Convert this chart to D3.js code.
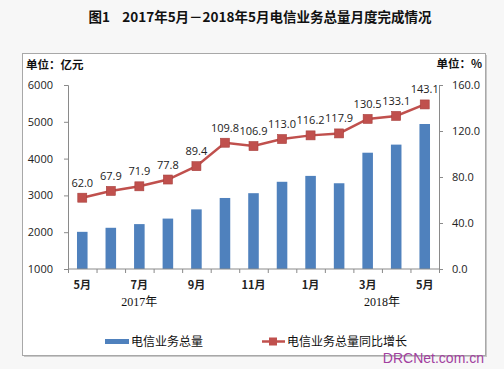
<!DOCTYPE html>
<html><head><meta charset="utf-8">
<script src="https://cdn.jsdelivr.net/npm/d3@7/dist/d3.min.js"></script>
<style>
html,body{margin:0;padding:0;background:#f7f7f7;}
svg{display:block;}
</style></head>
<body>
<svg id="c" width="504" height="369"></svg>
<script>
const months = ["5月","6月","7月","8月","9月","10月","11月","12月","1月","2月","3月","4月","5月"];
const totalVolume = [2010,2120,2220,2370,2620,2930,3060,3370,3530,3330,4160,4380,4940];
const growthRate = [62.0,67.9,71.9,77.8,89.4,109.8,106.9,113.0,116.2,117.9,130.5,133.1,143.1];
const leftTicks = [1000,2000,3000,4000,5000,6000];
const rightTicks = [0,40,80,120,160];
const years = [{label:"2017年", idx:2},{label:"2018年", idx:10.5}];

const svg = d3.select("#c");
const cjk = "'Noto Sans CJK SC','Noto Sans',sans-serif";
const L = 68, R = 439, T = 85, B = 269;

// title
svg.append("text").attr("x",260).attr("y",22).attr("text-anchor","middle")
  .attr("font-family",cjk).attr("font-weight","bold").attr("font-size",13.5).attr("fill","#111")
  .attr("xml:space","preserve")
  .text("图1    2017年5月－2018年5月电信业务总量月度完成情况");

// frame
svg.append("rect").attr("x",22.5).attr("y",53.5).attr("width",463).attr("height",302)
  .attr("fill","#fff").attr("stroke","#a8a8a8");
svg.append("line").attr("x1",486.5).attr("x2",486.5).attr("y1",55).attr("y2",357).attr("stroke","#c8c8c8");
svg.append("line").attr("x1",24).attr("x2",487).attr("y1",356.5).attr("y2",356.5).attr("stroke","#c8c8c8");

const x = d3.scaleBand().domain(d3.range(months.length)).range([L,R]).paddingInner(0.63).paddingOuter(0.315);
const xb = d3.scaleBand().domain(d3.range(months.length)).range([L,R]);
const yL = d3.scaleLinear().domain([1000,6000]).range([B,T]);
const yR = d3.scaleLinear().domain([0,160]).range([B,T]);

// bars
svg.append("g").selectAll("rect").data(totalVolume).join("rect")
  .attr("x",(d,i)=>x(i)).attr("width",x.bandwidth())
  .attr("y",d=>yL(d)).attr("height",d=>B-yL(d)).attr("fill","#4f81bd");

// axes
const axisCol = "#8a8a8a";
const gL = svg.append("g").attr("transform",`translate(${L},0)`)
  .call(d3.axisLeft(yL).tickValues(leftTicks).tickSize(4).tickPadding(11).tickFormat(d3.format("d")));
const gR = svg.append("g").attr("transform",`translate(${R},0)`)
  .call(d3.axisRight(yR).tickValues(rightTicks).tickSize(4).tickPadding(9).tickFormat(d3.format(".1f")));
[gL,gR].forEach(g=>{
  g.select(".domain").attr("stroke",axisCol);
  g.selectAll(".tick line").attr("stroke",axisCol);
  g.selectAll("text").attr("font-family","'Open Sans','DejaVu Sans',sans-serif").attr("font-size",11).attr("fill","#222");
});
// x axis
const gX = svg.append("g").attr("transform",`translate(0,${B})`);
gX.append("line").attr("x1",L).attr("x2",R).attr("stroke",axisCol);
gX.selectAll("line.t").data(d3.range(months.length+1)).join("line").attr("class","t")
  .attr("x1",i=>L+i*xb.bandwidth()+0.5).attr("x2",i=>L+i*xb.bandwidth()+0.5).attr("y1",0).attr("y2",4).attr("stroke",axisCol);
gX.selectAll("text.m").data(months).join("text").attr("class","m")
  .attr("x",(d,i)=>xb(i)+xb.bandwidth()/2).attr("y",20).attr("text-anchor","middle")
  .attr("font-family",cjk).attr("font-size",11).attr("font-weight","bold").attr("fill","#222")
  .text((d,i)=> i%2===0 ? d : "");
gX.selectAll("text.y").data(years).join("text").attr("class","y")
  .attr("x",d=>xb(0)+xb.bandwidth()*(d.idx+0.5)).attr("y",37).attr("text-anchor","middle")
  .attr("font-family","'Liberation Serif','Noto Sans CJK SC',serif").attr("font-size",12).attr("fill","#111")
  .text(d=>d.label);

// units
svg.append("text").attr("x",26).attr("y",69).attr("font-family",cjk).attr("font-weight","bold").attr("font-size",11.5).attr("fill","#111").text("单位：亿元");
svg.append("text").attr("x",482).attr("y",68).attr("text-anchor","end").attr("font-family",cjk).attr("font-weight","bold").attr("font-size",11.5).attr("fill","#111").text("单位：%");

// line
const cx = i => xb(i)+xb.bandwidth()/2;
svg.append("path").datum(growthRate)
  .attr("d",d3.line().x((d,i)=>cx(i)).y(d=>yR(d)))
  .attr("fill","none").attr("stroke","#c0504d").attr("stroke-width",2.5);
svg.append("g").selectAll("rect").data(growthRate).join("rect")
  .attr("x",(d,i)=>cx(i)-4.5).attr("y",d=>yR(d)-4.5).attr("width",9).attr("height",9)
  .attr("fill","#c0504d").attr("stroke","#a8403d").attr("stroke-width",0.6);
svg.append("g").selectAll("text").data(growthRate).join("text")
  .attr("x",(d,i)=>cx(i)).attr("y",d=>yR(d)-11).attr("text-anchor","middle")
  .attr("font-family","'Open Sans','DejaVu Sans',sans-serif").attr("font-size",11).attr("fill","#222")
  .text(d=>d.toFixed(1));

// legend
svg.append("rect").attr("x",105).attr("y",339).attr("width",24).attr("height",5).attr("fill","#4f81bd");
svg.append("text").attr("x",131).attr("y",346).attr("font-family",cjk).attr("font-size",12).attr("fill","#111").text("电信业务总量");
svg.append("line").attr("x1",262).attr("x2",285).attr("y1",341.5).attr("y2",341.5).attr("stroke","#c0504d").attr("stroke-width",2.5);
svg.append("rect").attr("x",269).attr("y",337.5).attr("width",8).attr("height",8).attr("fill","#c0504d");
svg.append("text").attr("x",287).attr("y",346).attr("font-family",cjk).attr("font-size",12).attr("fill","#111").text("电信业务总量同比增长");

// watermark
svg.append("text").attr("x",484).attr("y",363).attr("text-anchor","end")
  .attr("font-family","'Liberation Sans',Arial,sans-serif").attr("font-size",14).attr("fill","#a23f9f")
  .text("DRCNet.com.cn");
</script>
</body></html>
